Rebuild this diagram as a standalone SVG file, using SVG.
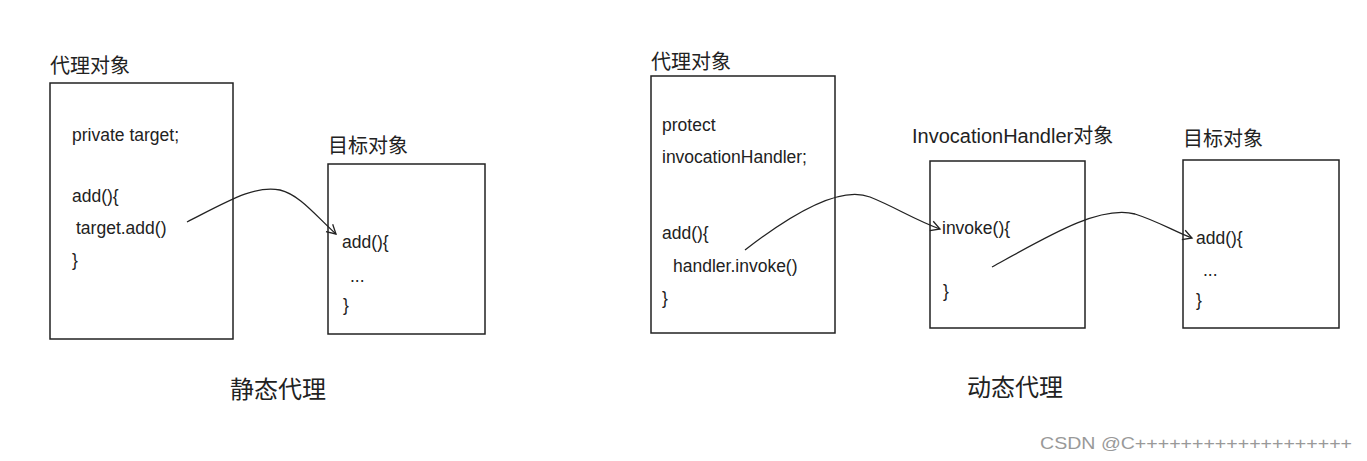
<svg xmlns="http://www.w3.org/2000/svg" width="1367" height="461" viewBox="0 0 1367 461">
<style>
.b{fill:none;stroke:#222;stroke-width:1.5}
.t{font-family:"Liberation Sans","Noto Sans CJK SC",sans-serif;font-size:17.5px;fill:#222}
.h{font-family:"Liberation Sans","Noto Sans CJK SC",sans-serif;font-size:20px;fill:#222}
.c{fill:none;stroke:#222;stroke-width:1.3;marker-end:url(#a)}
</style>
<defs><marker id="a" markerWidth="12" markerHeight="12" refX="10" refY="6" orient="auto" markerUnits="userSpaceOnUse"><path d="M1,1 L10,6 L1,11" fill="none" stroke="#222" stroke-width="1.3"/></marker></defs>
<rect width="1367" height="461" fill="#fff"/>
<g id="proxy1"><text class="h" x="50" y="73">代理对象</text><rect class="b" x="50" y="83" width="183" height="256"/>
<text class="t" x="72" y="141">private target;</text><text class="t" x="72" y="202">add(){</text><text class="t" x="76" y="234">target.add()</text><text class="t" x="72" y="266">}</text></g>
<g id="target1"><text class="h" x="328" y="153">目标对象</text><rect class="b" x="328" y="164" width="157" height="170"/>
<text class="t" x="342" y="248">add(){</text><text class="t" x="350" y="282">...</text><text class="t" x="343" y="311">}</text></g>
<g id="proxy2"><text class="h" x="651" y="69">代理对象</text><rect class="b" x="651" y="76" width="184" height="257"/>
<text class="t" x="662" y="131">protect</text><text class="t" x="662" y="163">invocationHandler;</text><text class="t" x="662" y="239">add(){</text><text class="t" x="673" y="272">handler.invoke()</text><text class="t" x="662" y="304">}</text></g>
<g id="handler"><text class="h" x="912" y="143">InvocationHandler对象</text><rect class="b" x="930" y="161" width="155" height="167"/>
<text class="t" x="942" y="234">invoke(){</text><text class="t" x="943" y="297">}</text></g>
<g id="target2"><text class="h" x="1183" y="146">目标对象</text><rect class="b" x="1183" y="160" width="156" height="168"/>
<text class="t" x="1196" y="244">add(){</text><text class="t" x="1203" y="276">...</text><text class="t" x="1196" y="306">}</text></g>
<g id="connectors">
<path class="c" d="M187,222 C230,200 255,185 280,190 C300,195 315,215 336,234"/>
<path class="c" d="M745,250 C790,215 840,185 870,197 C895,207 915,220 940,229"/>
<path class="c" d="M992,267 C1050,235 1100,205 1135,214 C1160,222 1175,232 1192,238"/>
</g>
<text class="h" x="230" y="398" style="font-size:24px">静态代理</text>
<text class="h" x="967" y="396" style="font-size:24px">动态代理</text>
<text x="1040" y="449" style="font-family:'Liberation Sans',sans-serif;font-size:16.5px;fill:#999" textLength="312" lengthAdjust="spacingAndGlyphs">CSDN @C+++++++++++++++++++</text>
</svg>
